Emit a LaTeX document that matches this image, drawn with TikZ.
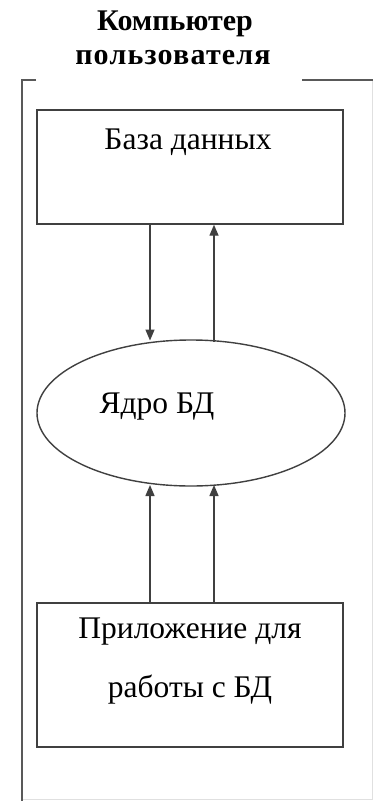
\documentclass[tikz,border=0pt]{standalone}
\usepackage{fontspec}
\setmainfont{Liberation Serif}
\usetikzlibrary{arrows.meta,shapes.geometric}
\begin{document}
\begin{tikzpicture}[x=1pt,y=-1pt,
  line/.style={draw=black!75,line width=1.4pt},
  frame/.style={draw=black!65,line width=1.6pt},
  faint/.style={draw=black!12,line width=1pt},
  block/.style={line,rectangle,inner sep=0pt},
  txt/.style={font=\fontsize{31.5}{36}\selectfont,inner sep=0pt},
  ttl/.style={font=\fontsize{30}{34}\bfseries\selectfont,inner sep=0pt},
  flow/.style={line,-{Triangle[length=11pt,width=9pt]}}]
\useasboundingbox (0,0) rectangle (373,803);
\fill[white] (0,0) rectangle (373,803);

% title
\node[ttl] (t1) at (175,24) {Компьютер};
\node[ttl] (t2) at (173,58) {\addfontfeature{LetterSpace=4}пользователя};

% outer frame of the user's computer
\coordinate (f1) at (22,80);
\coordinate (f2) at (36,80);
\coordinate (f3) at (302,80);
\coordinate (f4) at (373,80);
\coordinate (f5) at (22,801);
\coordinate (f6) at (372,80);
\coordinate (f7) at (372,799);
\coordinate (f8) at (22,799);
\draw[faint] (f6) -- (f7) -- (f8);
\draw[frame] (f2) -- (f1) -- (f5);
\draw[frame] (f3) -- (f4);

% blocks
\node[block,minimum width=306pt,minimum height=114pt] (db) at (190,167) {};
\node[txt] (dbt) at (188,142) {База данных};

\node[line,ellipse,minimum width=308pt,minimum height=146pt,inner sep=0pt] (core) at (191,413) {};
\node[txt] (coret) at (157,407) {Ядро БД};

\node[block,minimum width=306pt,minimum height=144pt] (app) at (190,675) {};
\node[txt] (appt1) at (190,632) {Приложение для};
\node[txt] (appt2) at (190,690) {работы с БД};

% connectors
\draw[flow] (db.south -| 150,0) -- (150,340.5);
\draw[flow] (214,341.5) -- (db.south -| 214,0);
\draw[flow] (app.north -| 150,0) -- (150,485);
\draw[flow] (app.north -| 214,0) -- (214,485);
\end{tikzpicture}
\end{document}
